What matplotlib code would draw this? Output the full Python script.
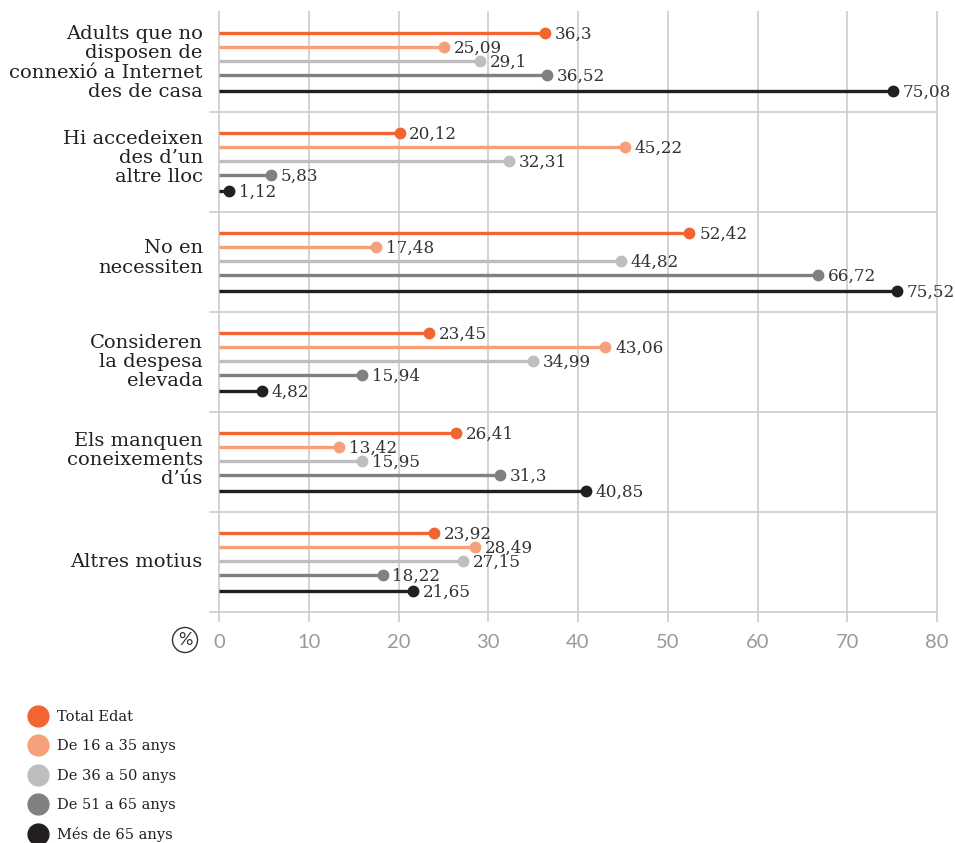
import matplotlib.pyplot as plt
from matplotlib.lines import Line2D

categories = [
    "Adults que no\ndisposen de\nconnexió a Internet\ndes de casa",
    "Hi accedeixen\ndes d\u2019un\naltre lloc",
    "No en\nnecessiten",
    "Consideren\nla despesa\nelevada",
    "Els manquen\nconeixements\nd\u2019ús",
    "Altres motius",
]
series_names = ["Total Edat", "De 16 a 35 anys", "De 36 a 50 anys",
                "De 51 a 65 anys", "Més de 65 anys"]
total_edat = [36.3, 20.12, 52.42, 23.45, 26.41, 23.92]
de_16_35 = [25.09, 45.22, 17.48, 43.06, 13.42, 28.49]
de_36_50 = [29.1, 32.31, 44.82, 34.99, 15.95, 27.15]
de_51_65 = [36.52, 5.83, 66.72, 15.94, 31.3, 18.22]
mes_65 = [75.08, 1.12, 75.52, 4.82, 40.85, 21.65]
xticks = [0, 10, 20, 30, 40, 50, 60, 70, 80]

series = [total_edat, de_16_35, de_36_50, de_51_65, mes_65]
colors = ["#F26531", "#F5A07A", "#BEBEC0", "#808083", "#231F20"]
offsets = [21, 35, 49, 63, 79]  # position of each bar inside a 100-unit group
label_offsets = [51, 46, 46, 50, 48, 50]

serif = "DejaVu Serif"

fig = plt.figure(figsize=(9.55, 8.43), dpi=100)
ax = fig.add_axes([219 / 955, 1 - 612 / 843, (937 - 219) / 955, 600 / 843])

ax.set_xlim(0, 80)
ax.set_ylim(600, 0)

# grid
for x in xticks:
    ax.plot([x, x], [0, 600], color="#CCCCCC", lw=1.2, zorder=0, clip_on=False)
for yy in range(100, 601, 100):
    ax.plot([-1, 80], [yy, yy], color="#CCCCCC", lw=1.2, zorder=0, clip_on=False)

for g, cat in enumerate(categories):
    base = g * 100
    for s, vals in enumerate(series):
        y = base + offsets[s]
        v = vals[g]
        ax.plot([0, v], [y, y], color=colors[s], lw=2.4, solid_capstyle="butt", zorder=2)
        ax.plot(v, y, "o", color=colors[s], ms=7.5, zorder=3)
        ax.annotate(str(v).replace(".", ","), (v, y), xytext=(7, -1),
                    textcoords="offset points", va="center", ha="left",
                    fontsize=12.2, color="#333333", family=serif)
    ax.text(-1.8, base + label_offsets[g], cat, ha="right", va="center",
            fontsize=14, color="#231F20", family=serif, linespacing=1.1)

ax.set_xticks(xticks)
ax.set_yticks([])
ax.tick_params(axis="x", length=7, color="#CCCCCC", width=1.2, pad=9,
               labelsize=14.5, labelcolor="#999999")
for lab in ax.get_xticklabels():
    lab.set_family(["Lato", "DejaVu Sans"])
for sp in ax.spines.values():
    sp.set_visible(False)

fig.text(185 / 955, 1 - 640 / 843, "%", ha="center", va="center", fontsize=13,
         color="#333333", family=["Lato", "DejaVu Sans"],
         bbox=dict(boxstyle="circle,pad=0.25", fc="white", ec="#333333", lw=1))

# legend
handles = [Line2D([], [], ls="", marker="o", ms=15, color=c) for c in colors]
leg = fig.legend(handles, series_names, loc="upper left",
                 bbox_to_anchor=(14 / 955, 1 - 697 / 843), frameon=False,
                 handletextpad=0.55, labelspacing=1.05, handlelength=1.5,
                 prop={"family": serif, "size": 10.5})
for t in leg.get_texts():
    t.set_color("#231F20")

fig.savefig("out.png", dpi=100)
